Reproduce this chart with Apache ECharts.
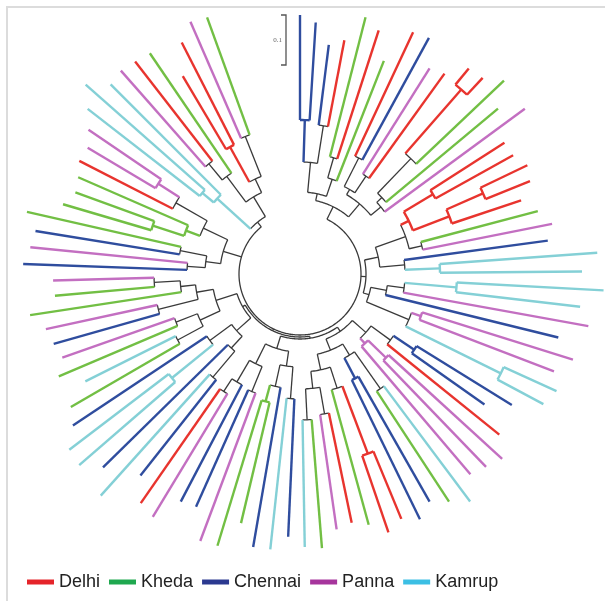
<!DOCTYPE html>
<html>
<head>
<meta charset="utf-8">
<script src="https://cdn.jsdelivr.net/npm/echarts@6/dist/echarts.min.js"></script>
<style>
  html, body { margin: 0; padding: 0; background: #ffffff; }
  #chart { width: 605px; height: 601px; }
</style>
</head>
<body>
<div id="chart"></div>
<script>
// Populations in legend order, with the one-letter codes used for the tips
const populations = ['Delhi', 'Kheda', 'Chennai', 'Panna', 'Kamrup'];
const popCodes = ['D', 'K', 'C', 'P', 'M'];
const branchColors = ['#e8342e', '#72bf44', '#2f4d9e', '#c36fc1', '#84d0d6'];
const legendColors = ['#e5242a', '#1fa84f', '#2b3990', '#a6359c', '#3cbfe4'];

// Population of each tip, clockwise from 12 o'clock
const leafGroup = [
  'C','C','C','D','K','D','K','D','C','P','D','D',
  'D','K','K','P','D','D','D','D','D','K','P','C',
  'M','M','M','M','P','C','P','P','M','M','C','C',
  'D','P','P','P','M','K','C','C','D','D','K','D',
  'P','K','M','C','M','C','K','K','P','C','C','P',
  'D','C','M','C','M','M','C','K','M','K','P','C',
  'P','K','K','P','C','P','C','K','K','K','K','D',
  'P','P','M','M','M','P','D','K','D','D','P','K'
];

// Root-to-tip distance of each tip (substitutions per site)
const tipDepth = [
  0.518, 0.504, 0.462, 0.476, 0.530, 0.512, 0.458, 0.534, 0.538, 0.486, 0.494, 0.532,
  0.536, 0.562, 0.516, 0.558, 0.486, 0.488, 0.504, 0.496, 0.466, 0.492, 0.514, 0.500,
  0.596, 0.564, 0.608, 0.564, 0.586, 0.532, 0.572, 0.544, 0.564, 0.552, 0.498, 0.452,
  0.512, 0.548, 0.536, 0.526, 0.568, 0.544, 0.524, 0.546, 0.530, 0.546, 0.520, 0.508,
  0.516, 0.550, 0.546, 0.526, 0.554, 0.554, 0.512, 0.568, 0.570, 0.510, 0.514, 0.568,
  0.558, 0.514, 0.596, 0.552, 0.584, 0.580, 0.546, 0.530, 0.480, 0.524, 0.504, 0.512,
  0.520, 0.546, 0.492, 0.494, 0.554, 0.542, 0.536, 0.560, 0.494, 0.478, 0.484, 0.496,
  0.494, 0.512, 0.538, 0.572, 0.536, 0.542, 0.538, 0.534, 0.460, 0.520, 0.550, 0.546
];

// Clade topology: numbers inside brackets are tip numbers (1-based),
// the number after a closing bracket is that node's distance from the root
const clades = {
  T1: '((((1,2)0.308,(3,4)0.3)0.224,((5,6)0.242,7)0.2)0.164,(((8,9)0.26,(10,11)0.236)0.196,((((12,13)0.49,14)0.32,15)0.224,16)0.21)0.184)0.15',
  T2: '((((17,18)0.31,((19,20)0.4,21)0.32)0.242,(22,23)0.25)0.224,(24,(25,26)0.28)0.21)0.16',
  R: '((((27,28)0.314,29)0.21,30)0.176,((31,32)0.256,(33,34)0.448)0.236)0.144',
  BR: '((((35,36)0.274,37)0.224,((38,39)0.24,40)0.19)0.176,(((41,42)0.28,(43,44)0.236)0.19,(((45,46)0.384,47)0.24,((48,49)0.284,(50,51)0.292)0.23)0.196)0.164)0.14',
  BL1: '(((52,53)0.25,(54,(55,56)0.264)0.23)0.186,((57,58)0.254,(59,(60,61)0.28)0.25)0.2)0.156',
  BL2: '(((62,63)0.27,64)0.202,((65,66)0.33,67)0.224)0.17',
  BL3: '(((68,69)0.278,(70,71)0.266)0.22,((72,73)0.292,(74,(75,76)0.292)0.24)0.21)0.176',
  L1: '(((77,78)0.226,(79,80)0.244)0.19,(((81,82)0.31,83)0.244,(84,(85,86)0.336)0.286)0.214)0.16',
  CY: '((87,88)0.254,89)0.224',
  TL: '(((90,91)0.286,92)0.244,((93,94)0.29,(95,96)0.296)0.21)0.18'
};
const rootTopology = '(T1,(T2,R)0.132,((BR,BL1)0.13,(BL2,BL3)0.132)0.126,L1,(CY,TL)0.134)0.122';

// Scale bar length (substitutions per site)
const scaleBar = [0.1];

// ---- build the tree ----
const treeText = rootTopology.replace(/BL1|BL2|BL3|BR|T1|T2|L1|CY|TL|R/g, m => clades[m]);

function parseTree(s) {
  let i = 0;
  function num() {
    const j = i;
    while (i < s.length && /[0-9.]/.test(s[i])) i++;
    return parseFloat(s.slice(j, i));
  }
  function node() {
    if (s[i] === '(') {
      i++;
      const children = [node()];
      while (s[i] === ',') { i++; children.push(node()); }
      i++; // closing bracket
      return { children, depth: num() };
    }
    const n = num() - 1;
    return { leaf: n, depth: tipDepth[n] };
  }
  return node();
}

const root = parseTree(treeText);

// angle (tip slot) and population of every node
function layout(n) {
  if (n.children) {
    n.children.forEach(layout);
    const first = n.children[0], last = n.children[n.children.length - 1];
    n.angle = (first.angle + last.angle) / 2;
    const g = n.children[0].group;
    n.group = n.children.every(c => c.group === g) ? g : -1;
  } else {
    n.angle = n.leaf;
    n.group = popCodes.indexOf(leafGroup[n.leaf]);
  }
}
layout(root);

// segments: [kind, r1, r2, a1, a2]; kind 0 = radial branch, 1 = arc joining children
const segs = { tree: [] };
populations.forEach((p, k) => { segs[k] = []; });
function collect(n, parentDepth) {
  const bucket = n.group >= 0 ? segs[n.group] : segs.tree;
  if (parentDepth !== null) bucket.push([0, parentDepth, n.depth, n.angle, n.angle]);
  if (n.children) {
    const a1 = n.children[0].angle, a2 = n.children[n.children.length - 1].angle;
    bucket.push([1, n.depth, n.depth, a1, a2]);
    n.children.forEach(c => collect(c, n.depth));
  }
}
collect(root, null);

function branchRenderer(color, width) {
  return function (params, api) {
    const kind = api.value(0), r1 = api.value(1), r2 = api.value(2);
    const a1 = api.value(3), a2 = api.value(4);
    let pts;
    if (kind === 0) {
      pts = [api.coord([r1, a1]), api.coord([r2, a1])];
    } else {
      pts = [];
      const n = Math.max(2, Math.ceil(Math.abs(a2 - a1) * 4) + 1);
      for (let k = 0; k < n; k++) pts.push(api.coord([r1, a1 + (a2 - a1) * k / (n - 1)]));
    }
    return {
      type: 'polyline',
      shape: { points: pts },
      style: { stroke: color, lineWidth: width, fill: null, lineJoin: 'miter' }
    };
  };
}

const series = [{
  name: 'tree',
  type: 'custom',
  coordinateSystem: 'polar',
  data: segs.tree,
  renderItem: branchRenderer('#3a3a3a', 1.3),
  silent: true
}];
populations.forEach((p, k) => {
  series.push({
    name: p,
    type: 'custom',
    coordinateSystem: 'polar',
    data: segs[k],
    itemStyle: { color: legendColors[k] },
    renderItem: branchRenderer(branchColors[k], 2.4),
    silent: true
  });
});

// scale bar next to the first tip
series.push({
  name: 'scale',
  type: 'custom',
  coordinateSystem: 'polar',
  data: scaleBar.map(v => [v]),
  silent: true,
  renderItem: function (params, api) {
    const len = api.value(0);
    const topR = 0.518;
    const top = api.coord([topR, 0]);
    const bot = api.coord([topR - len, 0]);
    const x = top[0] - 14;
    return {
      type: 'group',
      children: [{
        type: 'polyline',
        shape: { points: [[x - 5, top[1]], [x, top[1]], [x, bot[1]], [x - 5, bot[1]]] },
        style: { stroke: '#555555', lineWidth: 1.3, fill: null }
      }, {
        type: 'text',
        style: {
          text: String(len), x: x - 4, y: (top[1] + bot[1]) / 2,
          align: 'right', verticalAlign: 'middle',
          font: '7px "Liberation Serif", serif', fill: '#666666'
        }
      }]
    };
  }
});

const chart = echarts.init(document.getElementById('chart'), null, { renderer: 'canvas' });
chart.setOption({
  animation: false,
  backgroundColor: '#ffffff',
  polar: { center: [300, 274], radius: 320 },
  angleAxis: { type: 'value', min: 0, max: 360 / 3.58, startAngle: 90, clockwise: true, show: false },
  radiusAxis: { type: 'value', min: 0, max: 0.64, show: false },
  legend: {
    data: populations,
    selectedMode: false,
    left: 22,
    top: 568,
    icon: 'rect',
    itemWidth: 27,
    itemHeight: 5,
    itemGap: 9,
    textStyle: { fontSize: 18, fontFamily: '"Liberation Sans", Arial, sans-serif', color: '#222222', padding: [0, 0, 0, 0] }
  },
  graphic: [{
    type: 'rect',
    silent: true,
    shape: { x: 7, y: 7, width: 640, height: 640 },
    style: { fill: null, stroke: '#dcdcdc', lineWidth: 2 }
  }],
  series: series
});
</script>
</body>
</html>
